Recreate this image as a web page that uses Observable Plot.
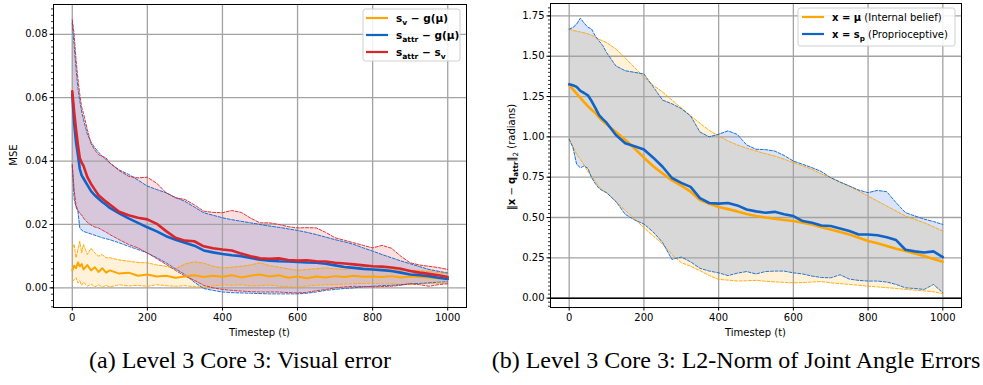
<!DOCTYPE html>
<html><head><meta charset="utf-8">
<script src="https://cdn.jsdelivr.net/npm/d3@7"></script>
<script src="https://cdn.jsdelivr.net/npm/@observablehq/plot@0.6"></script>
<style>
body{margin:0;background:#fff;}
#wrap{position:relative;width:983px;height:385px;overflow:hidden;background:#fff}
#left{position:absolute;left:0;top:0}
#right{position:absolute;left:490px;top:0}
.cap{position:absolute;top:346px;width:0;height:28px;line-height:28px;font-family:"Liberation Serif","Times New Roman",serif;font-size:24px;white-space:nowrap;color:#000}
.cap span{position:absolute;transform:translateX(-50%);}
</style></head>
<body>
<div id="wrap">
  <div id="left"></div>
  <div id="right"></div>
  <div class="cap" style="left:240px"><span>(a) Level 3 Core 3: Visual error</span></div>
  <div class="cap" style="left:736px"><span>(b) Level 3 Core 3: L2-Norm of Joint Angle Errors</span></div>
</div>
<script>
// ---------- Panel (a): Visual error (MSE) ----------
const tA = [0,5,10,15,20,25,30,40,50,60,70,80,90,100,125,150,175,200,225,250,275,300,325,350,375,400,425,450,475,500,525,550,575,600,625,650,675,700,725,750,775,800,825,850,875,900,925,950,975,1000];
// s_v - g(mu)  (orange)
const svMean = [0.0055,0.007,0.0062,0.008,0.0068,0.0075,0.0058,0.0072,0.0055,0.0065,0.005,0.0062,0.0048,0.0055,0.0045,0.0048,0.0038,0.0042,0.0036,0.0038,0.0032,0.0036,0.004,0.0034,0.0038,0.0035,0.004,0.0033,0.0038,0.0042,0.0036,0.004,0.0032,0.0036,0.003,0.0036,0.0033,0.0037,0.0034,0.0038,0.0035,0.0036,0.0034,0.0037,0.0033,0.0036,0.0034,0.0033,0.003,0.0028];
const svHi = [0.0125,0.0137,0.0095,0.012,0.0147,0.011,0.0137,0.0105,0.0125,0.011,0.01,0.0105,0.0095,0.0095,0.0088,0.0084,0.008,0.0079,0.0072,0.0068,0.006,0.0075,0.0082,0.0078,0.0068,0.0063,0.0065,0.0068,0.0072,0.0079,0.007,0.0065,0.006,0.0055,0.0058,0.006,0.0063,0.006,0.0058,0.0062,0.0058,0.006,0.0057,0.006,0.0055,0.0056,0.0054,0.0052,0.0048,0.0044];
const svLo = [0.0021,0.0025,0.0032,0.0015,0.0022,0.0008,0.0018,0.0005,0.0012,0.0003,0.001,0.0002,0.0008,0.0003,0.001,0.0006,0.0008,0.0005,0.001,0.0007,0.0005,0.0007,0.0004,0.0002,0.0006,0.001,0.0008,0.001,0.0006,0.0007,0.0009,0.0005,0.0004,0.0002,0.0006,0.0008,0.001,0.001,0.0012,0.0013,0.0014,0.0015,0.0012,0.0013,0.0011,0.001,0.0013,0.0014,0.0013,0.0015];
// s_attr - g(mu)  (blue)
const agMean = [0.061,0.052,0.046,0.042,0.0375,0.0355,0.0345,0.0325,0.0305,0.0292,0.0281,0.0271,0.0262,0.0252,0.0235,0.0219,0.0205,0.0191,0.0178,0.0163,0.0152,0.0142,0.0133,0.0118,0.0112,0.0107,0.0103,0.01,0.0094,0.0089,0.0086,0.0084,0.0083,0.0082,0.008,0.0079,0.0076,0.0071,0.0066,0.0063,0.006,0.0058,0.0056,0.0053,0.0048,0.0042,0.004,0.0037,0.0032,0.0028];
const agHi = [0.0836,0.0765,0.069,0.063,0.059,0.0555,0.053,0.0485,0.046,0.0442,0.0428,0.0415,0.0405,0.0394,0.0372,0.0358,0.034,0.0321,0.031,0.03,0.0285,0.0273,0.0255,0.0237,0.0229,0.0221,0.0215,0.021,0.0205,0.02,0.0195,0.0191,0.0186,0.0181,0.0175,0.0168,0.016,0.0152,0.0145,0.0137,0.0126,0.0116,0.0105,0.0095,0.0085,0.0076,0.0067,0.0058,0.0052,0.0047];
const agLo = [0.0385,0.028,0.0255,0.0242,0.019,0.0182,0.0178,0.0174,0.017,0.0166,0.0162,0.0158,0.0155,0.0152,0.0142,0.0131,0.0121,0.011,0.0095,0.0079,0.006,0.0042,0.0018,-0.0002,-0.0008,-0.0013,-0.0015,-0.0016,-0.0017,-0.0018,-0.0019,-0.0019,-0.0019,-0.0019,-0.0017,-0.0013,-0.0008,-0.0005,-0.0002,0,0.0003,0.0005,0.0007,0.0008,0.001,0.0013,0.0014,0.0016,0.0018,0.0019];
// s_attr - s_v  (red)
const asMean = [0.062,0.0555,0.05,0.0452,0.041,0.0395,0.0385,0.035,0.0328,0.031,0.0292,0.0282,0.0272,0.0263,0.024,0.0229,0.0221,0.0216,0.0202,0.0179,0.0158,0.0149,0.0147,0.0131,0.0125,0.0121,0.0118,0.0108,0.01,0.0093,0.0092,0.0093,0.0088,0.0086,0.0087,0.0084,0.0083,0.0079,0.0077,0.0074,0.0071,0.0068,0.0067,0.0064,0.006,0.0053,0.0048,0.0044,0.004,0.0034];
const asHi = [0.0846,0.08,0.072,0.066,0.061,0.057,0.055,0.05,0.0455,0.0435,0.042,0.0415,0.041,0.0394,0.037,0.0352,0.0347,0.0349,0.033,0.03,0.0284,0.0279,0.0262,0.0242,0.0238,0.0237,0.0244,0.0238,0.022,0.0205,0.0205,0.02,0.0193,0.0189,0.019,0.0189,0.0175,0.0158,0.015,0.0142,0.0134,0.0126,0.0134,0.0125,0.01,0.0079,0.0072,0.0068,0.0064,0.0058];
const asLo = [0.0389,0.031,0.026,0.0245,0.0235,0.023,0.022,0.0207,0.0198,0.0192,0.0189,0.0182,0.0176,0.0168,0.0152,0.0137,0.0126,0.011,0.0092,0.0074,0.0055,0.0037,0.0024,0.0008,0,-0.0005,-0.0008,-0.001,-0.0012,-0.0013,-0.0013,-0.0013,-0.0015,-0.0016,-0.0014,-0.0009,-0.0005,0,0.0003,0.0005,0.0004,0.0003,0.0004,0.0005,0.0008,0.0013,0.001,0.0005,0.001,0.0013];
const xTicks = [0,200,400,600,800,1000];
const yTicksA = [0,0.02,0.04,0.06,0.08];

// ---------- Panel (b): L2-norm of joint angle errors ----------
const tB = [0,10,20,30,40,50,60,70,80,90,100,125,150,175,200,225,250,275,300,325,350,375,400,425,450,475,500,525,550,575,600,625,650,675,700,725,750,775,800,825,850,875,900,925,950,975,1000];
// x = mu (orange)
const muMean = [1.322,1.295,1.268,1.242,1.216,1.19,1.168,1.148,1.12,1.098,1.078,1.03,0.982,0.928,0.871,0.818,0.773,0.73,0.698,0.66,0.608,0.585,0.565,0.552,0.538,0.522,0.509,0.5,0.492,0.485,0.478,0.468,0.457,0.44,0.426,0.41,0.395,0.375,0.354,0.34,0.323,0.307,0.292,0.277,0.261,0.243,0.226];
const muHi = [1.668,1.66,1.655,1.65,1.645,1.638,1.63,1.618,1.605,1.595,1.585,1.545,1.49,1.43,1.37,1.32,1.278,1.228,1.18,1.13,1.085,1.04,1.006,0.975,0.95,0.93,0.912,0.896,0.881,0.862,0.84,0.82,0.799,0.77,0.747,0.72,0.695,0.664,0.633,0.602,0.571,0.54,0.509,0.488,0.468,0.442,0.416];
const muLo = [0.985,0.94,0.892,0.86,0.825,0.785,0.755,0.725,0.69,0.67,0.654,0.597,0.545,0.49,0.437,0.385,0.335,0.27,0.22,0.198,0.17,0.14,0.116,0.112,0.106,0.108,0.11,0.105,0.101,0.098,0.095,0.097,0.1,0.103,0.095,0.09,0.085,0.08,0.074,0.07,0.065,0.06,0.054,0.05,0.045,0.04,0.027];
// x = s_p (blue)
const spMean = [1.326,1.32,1.31,1.285,1.272,1.258,1.222,1.18,1.135,1.11,1.088,1.012,0.96,0.942,0.922,0.871,0.815,0.745,0.715,0.69,0.62,0.59,0.586,0.59,0.575,0.55,0.538,0.53,0.535,0.52,0.509,0.478,0.468,0.45,0.447,0.432,0.416,0.395,0.395,0.39,0.378,0.36,0.3,0.29,0.283,0.29,0.254];
const spHi = [1.668,1.678,1.699,1.736,1.705,1.68,1.668,1.625,1.595,1.566,1.523,1.44,1.41,1.4,1.39,1.31,1.228,1.205,1.175,1.13,1.03,1.0,1.016,1.037,1.015,0.95,0.923,0.921,0.912,0.885,0.85,0.83,0.809,0.785,0.747,0.72,0.695,0.67,0.654,0.668,0.66,0.592,0.53,0.51,0.49,0.475,0.457];
const spLo = [0.985,0.935,0.83,0.808,0.82,0.805,0.747,0.71,0.68,0.665,0.654,0.6,0.52,0.485,0.46,0.41,0.345,0.24,0.255,0.225,0.185,0.168,0.157,0.14,0.155,0.165,0.15,0.165,0.168,0.168,0.157,0.15,0.137,0.128,0.126,0.145,0.118,0.11,0.106,0.106,0.1,0.085,0.064,0.06,0.054,0.085,0.033];
const yTicksB = [0,0.25,0.5,0.75,1.0,1.25,1.5,1.75];

const ORANGE = "#ffa500", BLUE = "#1064c8", RED = "#d8262c";
const ORANGE_FILL = "#ffa500", BLUE_FILL = "#0046d4", RED_FILL = "#d8262c";
const GRID = "#a3a3a3";

function rows(T, lo, mid, hi) { return T.map((t, i) => ({t, lo: lo[i], mid: mid[i], hi: hi[i]})); }

function bandMarks(data, color, fill, mw) {
  return {
    area: Plot.areaY(data, {x: "t", y1: "lo", y2: "hi", fill: fill, fillOpacity: 0.15}),
    dash: [
      Plot.lineY(data, {x: "t", y: "hi", stroke: color, strokeWidth: 0.9, strokeDasharray: "3,1.6"}),
      Plot.lineY(data, {x: "t", y: "lo", stroke: color, strokeWidth: 0.9, strokeDasharray: "3,1.6"})
    ],
    mean: Plot.lineY(data, {x: "t", y: "mid", stroke: color, strokeWidth: mw})
  };
}

const FONT = "DejaVu Sans, sans-serif";

function richText(parent, x, y, segs, size, attrs = {}) {
  const t = d3.select(parent).append("text").attr("x", x).attr("y", y)
    .attr("font-family", FONT).attr("font-size", size).attr("fill", "#000").attr("text-anchor", "start");
  for (const k in attrs) t.attr(k, attrs[k]);
  let shifted = 0;
  for (const s of segs) {
    const sp = t.append("tspan").text(s.t);
    if (s.bold) sp.attr("font-weight", "bold");
    const want = s.sub ? size * 0.3 : 0;
    if (want !== shifted) { sp.attr("dy", want - shifted); shifted = want; }
    if (s.sub) sp.attr("font-size", size * 0.72);
  }
  return t;
}

function legend(svg, box, items) {
  const g = d3.select(svg).append("g");
  g.append("rect").attr("x", box.x).attr("y", box.y).attr("width", box.w).attr("height", box.h)
    .attr("rx", 2.5).attr("fill", "#fff").attr("fill-opacity", 0.85).attr("stroke", "#cfcfcf").attr("stroke-width", 1);
  items.forEach((it, i) => {
    const y = box.y0 + i * box.dy;
    g.append("line").attr("x1", box.lx).attr("x2", box.lx + 22).attr("y1", y).attr("y2", y)
      .attr("stroke", it.color).attr("stroke-width", 2.2);
    richText(g.node(), box.tx, y + 3.6, it.segs, box.fs);
  });
}

// ---------- build panel (a) ----------
{
  const sv = bandMarks(rows(tA, svLo, svMean, svHi), ORANGE, ORANGE_FILL, 2);
  const ag = bandMarks(rows(tA, agLo, agMean, agHi), BLUE, BLUE_FILL, 2.6);
  const as = bandMarks(rows(tA, asLo, asMean, asHi), RED, RED_FILL, 2.6);
  const minor = d3.range(-6, 90, 2).map(v => v / 1000);
  const svg = Plot.plot({
    width: 490, height: 345,
    marginLeft: 53, marginRight: 24, marginTop: 4, marginBottom: 38,
    style: {fontFamily: FONT, fontSize: "10px", background: "transparent"},
    x: {domain: [-50, 1050]},
    y: {domain: [-0.0062, 0.0894]},
    marks: [
      sv.area, ag.area, as.area,
      Plot.gridX(xTicks, {stroke: GRID, strokeOpacity: 1, strokeWidth: 1.3}),
      Plot.gridY(yTicksA, {stroke: GRID, strokeOpacity: 1, strokeWidth: 1.3}),
      ...sv.dash, ...ag.dash, ...as.dash,
      sv.mean, ag.mean, as.mean,
      Plot.axisY(minor, {tickSize: 2, tickFormat: () => "", strokeWidth: 0.8}),
      Plot.axisX(xTicks, {tickSize: 3.5, tickPadding: 2.5, label: null, fontSize: 10, tickFormat: d => String(d)}),
      Plot.axisY(yTicksA, {tickSize: 3.5, tickPadding: 2.5, label: null, tickFormat: d3.format(".2f"), fontSize: 10}),
      Plot.frame({stroke: "#000", strokeWidth: 1})
    ]
  });
  document.getElementById("left").appendChild(svg);
  d3.select(svg).append("text").attr("x", 259.5).attr("y", 336).attr("text-anchor", "middle")
    .attr("font-family", FONT).attr("font-size", 10).text("Timestep (t)");
  d3.select(svg).append("text").attr("transform", "translate(16.5,155) rotate(-90)").attr("text-anchor", "middle")
    .attr("font-family", FONT).attr("font-size", 10).text("MSE");
  legend(svg, {x: 363, y: 9, w: 97, h: 52, lx: 366, tx: 396, y0: 18, dy: 17, fs: 10.5}, [
    {color: ORANGE, segs: [{t: "s", bold: true}, {t: "v", bold: true, sub: true}, {t: " − g(μ)", bold: true}]},
    {color: BLUE, segs: [{t: "s", bold: true}, {t: "attr", bold: true, sub: true}, {t: " − g(μ)", bold: true}]},
    {color: RED, segs: [{t: "s", bold: true}, {t: "attr", bold: true, sub: true}, {t: " − s", bold: true}, {t: "v", bold: true, sub: true}]}
  ]);
}

// ---------- build panel (b) ----------
{
  const mu = bandMarks(rows(tB, muLo, muMean, muHi), ORANGE, ORANGE_FILL, 2.6);
  const sp = bandMarks(rows(tB, spLo, spMean, spHi), BLUE, BLUE_FILL, 2.6);
  const minor = d3.range(-2, 73, 1).map(v => v * 0.025);
  const svg = Plot.plot({
    width: 493, height: 345,
    marginLeft: 60, marginRight: 22, marginTop: 3, marginBottom: 38,
    style: {fontFamily: FONT, fontSize: "10px", background: "transparent"},
    x: {domain: [-50, 1050]},
    y: {domain: [-0.058, 1.827]},
    marks: [
      mu.area, sp.area,
      Plot.gridX(xTicks, {stroke: GRID, strokeOpacity: 1, strokeWidth: 1.3}),
      Plot.gridY(yTicksB, {stroke: GRID, strokeOpacity: 1, strokeWidth: 1.3}),
      Plot.ruleY([0], {stroke: "#000", strokeWidth: 1.5}),
      ...mu.dash, ...sp.dash,
      mu.mean, sp.mean,
      Plot.axisY(minor, {tickSize: 2, tickFormat: () => "", strokeWidth: 0.8}),
      Plot.axisX(xTicks, {tickSize: 3.5, tickPadding: 2.5, label: null, fontSize: 10, tickFormat: d => String(d)}),
      Plot.axisY(yTicksB, {tickSize: 3.5, tickPadding: 2.5, label: null, tickFormat: d3.format(".2f"), fontSize: 10}),
      Plot.frame({stroke: "#000", strokeWidth: 1})
    ]
  });
  document.getElementById("right").appendChild(svg);
  d3.select(svg).append("text").attr("x", 265.5).attr("y", 336).attr("text-anchor", "middle")
    .attr("font-family", FONT).attr("font-size", 10).text("Timestep (t)");
  richText(svg, 0, 0, [
    {t: "‖"}, {t: "x", bold: true}, {t: " − "}, {t: "q", bold: true}, {t: "attr", bold: true, sub: true},
    {t: "‖"}, {t: "2", sub: true}, {t: " (radians)"}
  ], 10, {"transform": "translate(24.5,157) rotate(-90)", "text-anchor": "middle"});
  legend(svg, {x: 308, y: 8, w: 157, h: 38, lx: 312, tx: 342, y0: 17, dy: 17, fs: 10}, [
    {color: ORANGE, segs: [{t: "x = μ", bold: true}, {t: " (Internal belief)"}]},
    {color: BLUE, segs: [{t: "x = s", bold: true}, {t: "p", bold: true, sub: true}, {t: " (Proprioceptive)"}]}
  ]);
}
</script>
</body></html>
